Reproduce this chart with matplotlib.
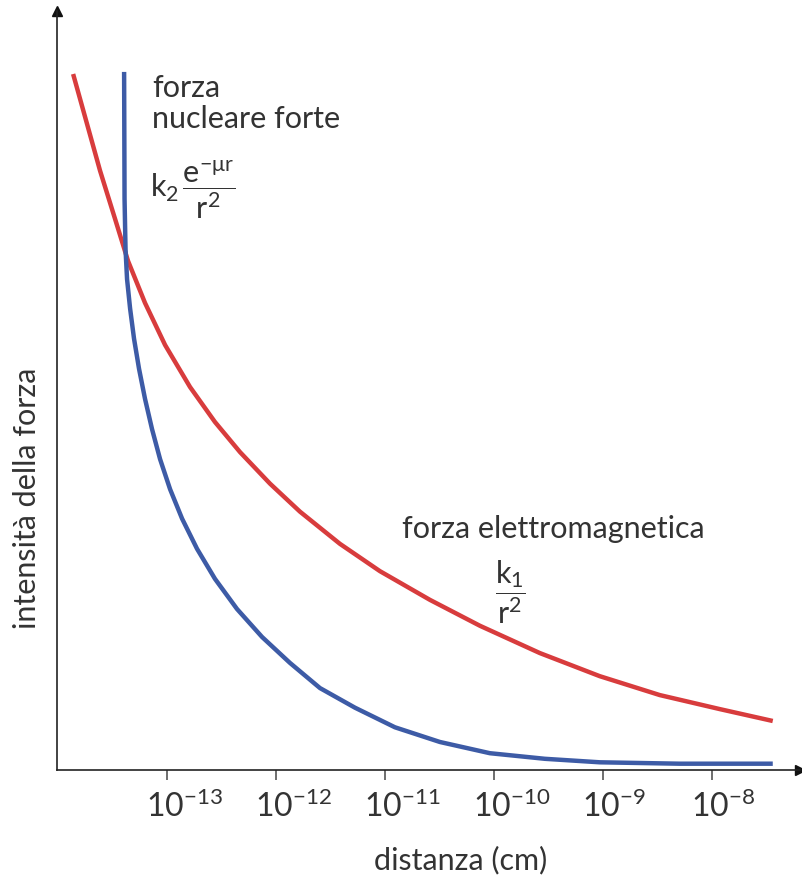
import numpy as np
import matplotlib
matplotlib.use("Agg")
import matplotlib.pyplot as plt
from matplotlib.transforms import ScaledTranslation

plt.rcParams['font.family'] = ['Lato', 'DejaVu Sans']
plt.rcParams['mathtext.fontset'] = 'custom'
plt.rcParams['mathtext.rm'] = 'Lato'
plt.rcParams['mathtext.it'] = 'Lato:italic'

# log10 of distance (cm) and relative force intensity
em_logr = [-13.862, -13.615, -13.477, -13.358, -13.202, -13.018, -12.789, -12.560, -12.330,
           -12.055, -11.780, -11.413, -11.046, -10.587, -10.128, -9.578, -9.028, -8.477,
           -7.927, -7.440]
em_force = [0.994, 0.856, 0.787, 0.727, 0.667, 0.607, 0.547, 0.497, 0.454,
            0.409, 0.369, 0.323, 0.284, 0.243, 0.206, 0.167, 0.134, 0.107,
            0.087, 0.070]

nuc_logr = [-13.394, -13.390, -13.381, -13.367, -13.339, -13.303, -13.257, -13.202, -13.138,
            -13.064, -12.972, -12.862, -12.725, -12.560, -12.358, -12.128, -11.872, -11.596,
            -11.275, -10.908, -10.495, -10.037, -9.532, -9.028, -8.294, -7.440]
nuc_force = [0.997, 0.816, 0.744, 0.701, 0.659, 0.616, 0.573, 0.530, 0.487,
             0.444, 0.401, 0.359, 0.316, 0.273, 0.230, 0.190, 0.153, 0.117,
             0.089, 0.061, 0.040, 0.024, 0.016, 0.011, 0.009, 0.009]

tick_exp = [-13, -12, -11, -10, -9, -8]

W, H = 802, 878
fig = plt.figure(figsize=(W / 100, H / 100), dpi=100)
ax = fig.add_axes([57 / W, 1 - 771 / H, 743 / W, 759 / H])

def px(x, y):
    return x / W, 1 - y / H

red = '#d83c3d'
blue = '#3d5ba6'
txt = '#333333'

ax.plot(10 ** np.array(em_logr), em_force, color=red, lw=3.2,
        solid_capstyle='butt', solid_joinstyle='round')
ax.plot(10 ** np.array(nuc_logr), nuc_force, color=blue, lw=3.2,
        solid_capstyle='butt', solid_joinstyle='round')

ax.set_xscale('log')
ax.set_xlim(10 ** -14.01, 10 ** -7.19)
ax.set_ylim(0, 1.084)

for s in ['top', 'right']:
    ax.spines[s].set_visible(False)
for s in ['left', 'bottom']:
    ax.spines[s].set_linewidth(1.2)
    ax.spines[s].set_color('#222222')

# arrow heads on the axes
ax.plot(0, 1, marker='^', ms=7, color='#111111', transform=ax.transAxes, clip_on=False)
ax.plot(1, 0, marker='>', ms=7, color='#111111', transform=ax.transAxes, clip_on=False)

ax.set_yticks([])
ax.set_xticks([10.0 ** e for e in tick_exp])
ax.set_xticklabels([r'$\mathrm{10^{%d}}$' % e for e in tick_exp])
ax.xaxis.set_minor_locator(matplotlib.ticker.NullLocator())
ax.tick_params(axis='x', direction='out', length=7, width=1.2, color='#555555',
               pad=7, labelsize=23, labelcolor=txt)
for lab in ax.get_xticklabels():
    lab.set_horizontalalignment('left')
    lab.set_transform(lab.get_transform() + ScaledTranslation(-0.21, 0, fig.dpi_scale_trans))

fs = 22
fig.text(*px(152, 97), 'forza', fontsize=fs, color=txt, va='baseline')
fig.text(*px(152, 128), 'nucleare forte', fontsize=fs, color=txt, va='baseline')
fig.text(*px(150, 190), r'$\mathrm{k_2\,\dfrac{e^{-\mu r}}{r^2}}$', fontsize=fs,
         color=txt, va='center')
fig.text(*px(402, 538), 'forza elettromagnetica', fontsize=fs, color=txt, va='baseline')
fig.text(*px(510, 592), r'$\mathrm{\dfrac{k_1}{r^2}}$', fontsize=fs, color=txt,
         va='center', ha='center')
fig.text(*px(461, 860), 'distanza (cm)', fontsize=fs, color=txt, va='center', ha='center')
fig.text(*px(27, 498), 'intensità della forza', fontsize=fs, color=txt, va='center',
         ha='center', rotation=90)

fig.savefig('out.png', dpi=100)
